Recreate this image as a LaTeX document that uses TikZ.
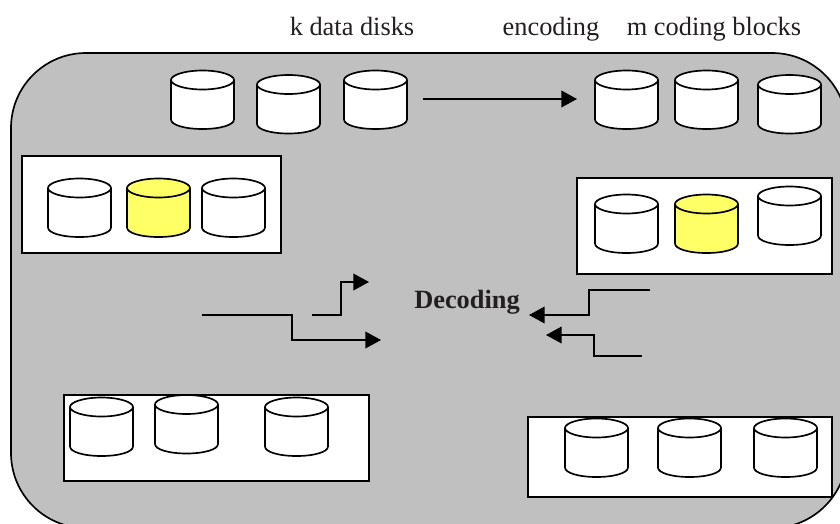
\documentclass[tikz,border=0pt]{standalone}
\usepackage{fontspec}
\setmainfont{Liberation Serif}
\usetikzlibrary{arrows.meta}
\definecolor{panelgray}{HTML}{C0C0C0}
\definecolor{diskyellow}{HTML}{FFFF66}
\definecolor{labelink}{HTML}{231F20}
\tikzset{
	thickline/.style={line width=0.05cm},
	groupbox/.style={draw,fill=white,thickline},
	flow/.style={draw,thickline,-{Triangle[length=0.47cm,width=0.5cm]}},
	caption/.style={text=labelink,font=\fontsize{22.5}{26}\selectfont,inner sep=0pt,anchor=base},
	pics/disk/.style={code={
		\draw[thickline,fill=#1] (-31.5,-19.5) -- (-31.5,20)
			.. controls (-31.5,25.5) and (-17.5,29.5) .. (0,29.5)
			.. controls (17.5,29.5) and (31.5,25.5) .. (31.5,20)
			-- (31.5,-19.5)
			.. controls (31.5,-24.5) and (17.5,-29) .. (0,-29)
			.. controls (-17.5,-29) and (-31.5,-24.5) .. (-31.5,-19.5) -- cycle;
		\draw[thickline] (-31.5,-19.5)
			.. controls (-31.5,-14.5) and (-17.5,-10) .. (0,-10)
			.. controls (17.5,-10) and (31.5,-14.5) .. (31.5,-19.5);
	}},
	pics/disk/.default=white
}
\begin{document}
\begin{tikzpicture}[x=0.03cm,y=-0.03cm]
		\useasboundingbox (0,0) rectangle (840,523);
		\clip (0,0) rectangle (840,523);
		\draw[fill=panelgray,thickline,rounded corners=2.25cm] (11,53) rectangle (847,528);

		\node[caption] (k label) 	at (352,35) {k data disks};
		\node[caption] (enc label) 	at (551,35) {encoding};
		\node[caption] (m label) 	at (714,35) {m coding blocks};
		\node[caption,font=\fontsize{22.5}{26}\selectfont\bfseries] (dec label) at (467,308) {Decoding};

		\draw[groupbox] (22,156) rectangle (281,253);
		\draw[groupbox] (577,178) rectangle (832,274);
		\draw[groupbox] (64,395) rectangle (369,481);
		\draw[groupbox] (528,417) rectangle (832,497);

		\pic (data a) at (202.5,99.5) {disk};
		\pic (data b) at (288.5,104) {disk};
		\pic (data c) at (375.5,99.5) {disk};
		\pic (code a) at (626.5,99.5) {disk};
		\pic (code b) at (706.5,99.5) {disk};
		\pic (code c) at (789.5,104) {disk};

		\pic (left a)  at (79.5,207.5) {disk};
		\pic (left b)  at (158.5,207.5) {disk=diskyellow};
		\pic (left c)  at (233.5,207.5) {disk};
		\pic (right a) at (626.5,223.5) {disk};
		\pic (right b) at (706.5,223.5) {disk=diskyellow};
		\pic (right c) at (789.5,215.5) {disk};

		\pic (low a) at (101.5,426.5) {disk};
		\pic (low b) at (186.5,424) {disk};
		\pic (low c) at (296.5,426.5) {disk};
		\pic (end a) at (596.5,447.5) {disk};
		\pic (end b) at (689.5,447.5) {disk};
		\pic (end c) at (785.5,447.5) {disk};

		\coordinate (enc start) at (423,99);
		\coordinate (enc end) 	at (577,99);
		\draw[flow] (enc start) -- (enc end);

		\coordinate (in a) 	at (202,315);
		\coordinate (in b) 	at (312,315);
		\coordinate (in c) 	at (650,290);
		\coordinate (in d) 	at (642,356);
		\coordinate (to a) 	at (381,340);
		\coordinate (to b) 	at (369,282);
		\coordinate (to c) 	at (529,315);
		\coordinate (to d) 	at (546,335);
		\draw[flow] (in a) -- (292,315) -- (292,340) -- (to a);
		\draw[flow] (in b) -- (341,315) -- (341,282) -- (to b);
		\draw[flow] (in c) -- (589,290) -- (589,315) -- (to c);
		\draw[flow] (in d) -- (594,356) -- (594,335) -- (to d);
	\end{tikzpicture}
\end{document}
